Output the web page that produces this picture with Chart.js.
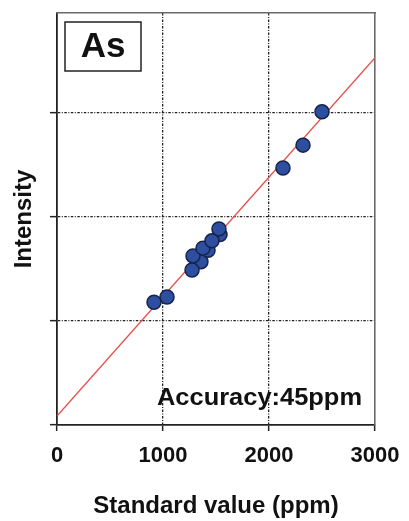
<!DOCTYPE html>
<html>
<head>
<meta charset="utf-8">
<script src="https://cdn.jsdelivr.net/npm/chart.js@4/dist/chart.umd.min.js"></script>
<style>
  html, body { margin: 0; padding: 0; background: #fff; }
  #wrap { width: 409px; height: 521px; position: relative; }
</style>
</head>
<body>
<div id="wrap"><canvas id="chart"></canvas></div>
<script>
// measured samples (standard value in ppm, intensity in arbitrary units)
const standardValues = [1358, 1425, 1538, 915, 1038, 1274, 1283, 1377, 1462, 1528, 2132, 2321, 2500]
const intensities    = [1.57, 1.68, 1.83, 1.18, 1.23, 1.49, 1.625, 1.70, 1.77, 1.885, 2.47, 2.69, 3.01]

// calibration line
const fitX = [0, 3000]
const fitY = [0.087, 3.53]

const xTicks = [0, 1000, 2000, 3000]
const element = 'As'
const accuracyText = 'Accuracy:45ppm'

const fontFamily = "'Liberation Sans', Arial, sans-serif"
const gridDash = [2.5, 1.5, 1, 1.5]

// draws the element box and the accuracy note
const labelsPlugin = {
    id: 'labels',
    afterDatasetsDraw(chart) {
        const ctx = chart.ctx
        const area = chart.chartArea
        ctx.save()

        // element box
        let bx = area.left + 8
        let by = area.top + 9
        let bw = 76
        let bh = 49
        ctx.fillStyle = '#fff'
        ctx.fillRect(bx, by, bw, bh)
        ctx.strokeStyle = '#222'
        ctx.lineWidth = 1.5
        ctx.strokeRect(bx, by, bw, bh)
        ctx.fillStyle = '#111'
        ctx.font = 'bold 35px ' + fontFamily
        ctx.textAlign = 'center'
        ctx.textBaseline = 'middle'
        ctx.fillText(element, bx + bw / 2, by + bh / 2 + 1)

        // accuracy
        ctx.font = 'bold 24px ' + fontFamily
        ctx.textAlign = 'right'
        ctx.textBaseline = 'alphabetic'
        ctx.translate(area.right - 13, area.bottom - 20)
        ctx.scale(1.06, 1)
        ctx.fillText(accuracyText, 0, 0)
        ctx.restore()
    }
}

document.addEventListener('DOMContentLoaded', function() {
    let scatterData = {
        datasets: [{
            label: 'Samples',
            data: standardValues.map((v, i) => ({ x: v, y: intensities[i] })),
            backgroundColor: '#2e4f9f',
            borderColor: '#15244a',
            borderWidth: 1.5,
            pointRadius: 7,
            pointHoverRadius: 7
        },
        {
            type: 'line',
            label: 'Fit',
            data: fitX.map((v, i) => ({ x: v, y: fitY[i] })),
            borderColor: '#e4504c',
            borderWidth: 1.3,
            pointRadius: 0,
            fill: false
        }]
    }

    let scatterOptions = {
        responsive: true,
        maintainAspectRatio: false,
        animation: false,
        layout: { padding: { top: 13, right: 34, bottom: 0, left: 0 } },
        plugins: {
            legend: { display: false },
            tooltip: { enabled: false }
        },
        scales: {
            x: {
                type: 'linear',
                position: 'bottom',
                min: 0,
                max: 3000,
                afterBuildTicks: scale => { scale.ticks = xTicks.map(v => ({ value: v })) },
                afterFit: scale => {
                    scale.height = 96
                    scale.paddingLeft = 0
                    scale.paddingRight = 0
                },
                ticks: {
                    color: '#111',
                    padding: 12,
                    maxRotation: 0,
                    callback: v => String(v),
                    font: { family: fontFamily, size: 22, weight: 'bold' }
                },
                grid: {
                    color: c => (c.tick && c.tick.value > 0 && c.tick.value < 3000) ? '#222' : 'rgba(0,0,0,0)',
                    lineWidth: 1.3,
                    tickColor: '#222',
                    tickLength: 6,
                    tickWidth: 1.5
                },
                border: { color: '#222', width: 1.8, dash: gridDash },
                title: {
                    display: true,
                    text: 'Standard value (ppm)',
                    color: '#111',
                    padding: { top: 0, bottom: 0 },
                    font: { family: fontFamily, size: 24, weight: 'bold' }
                }
            },
            y: {
                type: 'linear',
                position: 'left',
                min: 0,
                max: 3.96,
                ticks: { display: false, stepSize: 1 },
                afterFit: scale => { scale.width = 57 },
                grid: {
                    color: c => (c.tick && c.tick.value > 0 && c.tick.value < 3.5) ? '#222' : 'rgba(0,0,0,0)',
                    lineWidth: 1.3,
                    tickColor: c => (c.tick && c.tick.value < 3.5) ? '#222' : 'rgba(0,0,0,0)',
                    tickLength: 7,
                    tickWidth: 1.5
                },
                border: { color: '#222', width: 1.8, dash: gridDash },
                title: {
                    display: true,
                    text: 'Intensity',
                    color: '#111',
                    padding: { top: 10, bottom: 0 },
                    font: { family: fontFamily, size: 24, weight: 'bold' }
                }
            },
            x2: {
                type: 'linear',
                position: 'top',
                min: 0,
                max: 3000,
                afterFit: scale => { scale.height = 0 },
                ticks: { display: false },
                grid: { display: false, drawTicks: false },
                border: { color: '#6a6a6a', width: 1.6 }
            },
            y2: {
                type: 'linear',
                position: 'right',
                min: 0,
                max: 3.96,
                afterFit: scale => { scale.width = 0 },
                ticks: { display: false },
                grid: { display: false, drawTicks: false },
                border: { color: '#6a6a6a', width: 1.6 }
            }
        }
    }

    let chart = new Chart(document.getElementById('chart'), {
        type: 'scatter',
        data: scatterData,
        options: scatterOptions,
        plugins: [labelsPlugin]
    })
})
</script>
</body>
</html>
